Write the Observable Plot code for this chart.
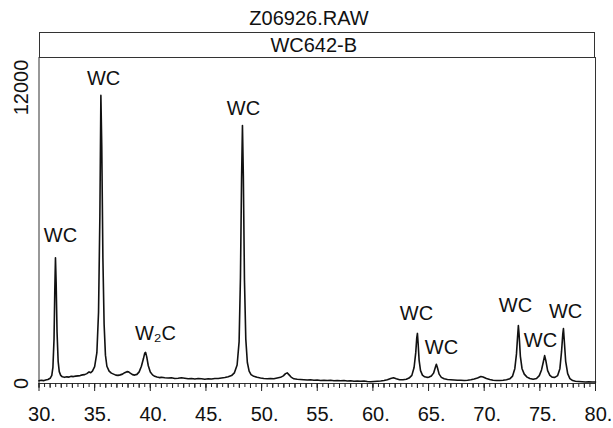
<!DOCTYPE html>
<html>
<head>
<meta charset="utf-8">
<script src="https://cdn.jsdelivr.net/npm/d3@7"></script>
<script src="https://cdn.jsdelivr.net/npm/@observablehq/plot@0.6"></script>
<style>
  html, body { margin: 0; padding: 0; background: #fff; }
  #wrap { position: relative; width: 613px; height: 428px; font-family: "Liberation Sans", Arial, Helvetica, sans-serif; color: #111; }
  #title { position: absolute; top: 7px; left: 209px; width: 200px; text-align: center; font-size: 20px; line-height: 22px; }
  #band { position: absolute; top: 32px; left: 38.5px; width: 556.5px; height: 26px; box-sizing: border-box;
          border: 1px solid #333; border-bottom: none; text-align: center; font-size: 20px; line-height: 25px; }
  #band span { position: relative; left: -3px; }
  svg { position: absolute; top: 0; left: 0; }
</style>
</head>
<body>
<div id="wrap">
  <div id="title">Z06926.RAW</div>
  <div id="band"><span>WC642-B</span></div>
</div>
<script>
// ---- data ----
const chartTitle = "Z06926.RAW";
const sampleName = "WC642-B";

const twoTheta = [
  30.0, 30.2, 30.4, 30.6, 30.8, 31.0, 31.15, 31.25, 31.35, 31.42, 31.48, 31.54, 31.62, 31.72, 31.82, 31.95,
  32.1, 32.3, 32.5, 32.7, 32.9, 33.1, 33.3, 33.5, 33.7, 33.9, 34.1, 34.3, 34.5, 34.65, 34.8,
  35.0, 35.2, 35.35, 35.47, 35.56, 35.64, 35.74, 35.85, 35.97, 36.1, 36.3, 36.5, 36.7, 36.9,
  37.1, 37.3, 37.5, 37.7, 37.9, 38.05, 38.2, 38.4, 38.6, 38.8, 39.0, 39.2, 39.38, 39.5, 39.58, 39.68, 39.82,
  40.0, 40.2, 40.4, 40.6, 40.8, 41.0, 41.3, 41.6, 41.9, 42.2, 42.5, 42.8, 43.1, 43.4, 43.7, 44.0, 44.3, 44.6, 44.9,
  45.2, 45.5, 45.8, 46.1, 46.4, 46.7, 47.0, 47.3, 47.55, 47.8, 47.98, 48.1, 48.2, 48.28, 48.36, 48.46, 48.58, 48.72, 48.88,
  49.05, 49.3, 49.6, 49.9, 50.2, 50.5, 50.8, 51.1, 51.4, 51.7, 51.95, 52.15, 52.3, 52.45, 52.65, 52.9,
  53.2, 53.5, 53.8, 54.1, 54.4, 54.7, 55.0, 55.3, 55.6, 55.9, 56.2, 56.5, 56.8, 57.1, 57.4, 57.7, 58.0, 58.3, 58.6, 58.9,
  59.2, 59.5, 59.8, 60.1, 60.4, 60.7, 61.0, 61.3, 61.6, 61.85, 62.1, 62.4, 62.7, 63.0, 63.25, 63.5, 63.7, 63.85, 63.94,
  64.0, 64.06, 64.15, 64.28, 64.45, 64.65, 64.85, 65.05, 65.25, 65.45, 65.6, 65.7, 65.8, 65.95, 66.15, 66.4, 66.7,
  67.0, 67.3, 67.6, 67.9, 68.2, 68.5, 68.8, 69.1, 69.4, 69.7, 69.9, 70.2, 70.5, 70.8, 71.1, 71.4, 71.7,
  72.0, 72.3, 72.55, 72.75, 72.9, 73.0, 73.07, 73.14, 73.25, 73.4, 73.6, 73.85, 74.1, 74.4, 74.7, 74.95,
  75.15, 75.3, 75.43, 75.55, 75.7, 75.9, 76.1, 76.35, 76.6, 76.8, 76.95, 77.06, 77.12, 77.2, 77.32, 77.5, 77.7, 77.95,
  78.2, 78.5, 78.8, 79.1, 79.4, 79.7, 80.0
];
const counts = [
  110, 130, 115, 140, 160, 210, 330, 650, 1800, 3800, 5100, 4100, 2100, 900, 480, 330,
  270, 250, 270, 260, 290, 280, 300, 310, 320, 350, 360, 400, 470, 440, 500,
  680, 1250, 2900, 6800, 11680, 9600, 5100, 2400, 1150, 700, 500, 420, 380, 340,
  330, 350, 380, 440, 480, 470, 420, 360, 340, 370, 470, 700, 1000, 1230, 1260, 1080, 720,
  470, 350, 290, 260, 240, 250, 230, 220, 230, 200, 210, 230, 210, 190, 200, 180, 200, 190, 170,
  190, 180, 200, 200, 220, 240, 270, 320, 430, 750, 1700, 4300, 8300, 10460, 8400, 4200, 1800, 850, 500,
  360, 290, 250, 220, 200, 190, 200, 190, 220, 250, 310, 400, 430, 360, 260, 190,
  170, 160, 150, 140, 150, 130, 140, 120, 130, 120, 130, 110, 120, 110, 120, 100, 110, 90, 100, 90,
  100, 80, 70, 80, 90, 100, 120, 150, 200, 230, 190, 150, 150, 170, 220, 330, 650, 1250, 1850,
  2030, 1650, 950, 520, 340, 270, 250, 260, 300, 420, 640, 780, 640, 380, 250, 190, 160,
  150, 140, 130, 130, 120, 130, 150, 180, 220, 280, 260, 200, 160, 130, 120, 120, 130,
  150, 190, 300, 600, 1200, 1900, 2350, 1950, 1100, 600, 380, 260, 200, 170, 200, 320,
  550, 850, 1130, 900, 520, 330, 260, 250, 320, 600, 1300, 2000, 2230, 1700, 900, 400, 200, 120,
  90, 80, 70, 60, 70, 60, 60
];

// peak annotations
const labelText = ["WC", "WC", "W\u2082C", "WC", "WC", "WC", "WC", "WC", "WC"];
const labelX    = [31.93, 35.80, 40.47, 48.37, 63.92, 66.16, 72.81, 75.06, 77.31];
const labelY    = [6000, 12365, 2027, 11150, 2838, 1460, 3162, 1743, 2919];

// axes
const xMajorTicks = [30, 35, 40, 45, 50, 55, 60, 65, 70, 75, 80];
const xMinorStep = 0.5;
const yTicks = [0, 12000];
const xDomain = [30, 80];
const yDomain = [0, 13216];

// ---- build ----
const spectrum = twoTheta.map((t, i) => ({t, c: counts[i]}));
const labels = labelText.map((s, i) => ({s, x: labelX[i], y: labelY[i]}));
const minorTicks = d3.range(xDomain[0], xDomain[1] + 1e-9, xMinorStep);
const unitTicks = d3.range(xDomain[0], xDomain[1] + 1e-9, 1);

const ink = "#111";
const font = "'Liberation Sans', Arial, Helvetica, sans-serif";

const chart = Plot.plot({
  width: 613,
  height: 428,
  marginTop: 57,
  marginBottom: 45,
  marginLeft: 38.5,
  marginRight: 18,
  style: {fontFamily: font, color: ink, background: "transparent"},
  x: {domain: xDomain},
  y: {domain: yDomain, axis: null},
  marks: [
    Plot.frame({stroke: "#333", strokeWidth: 1}),
    Plot.axisX(minorTicks, {tickSize: 4, tickFormat: () => "", label: null, stroke: "#222"}),
    Plot.axisX(unitTicks, {tickSize: 5, tickFormat: () => "", label: null, stroke: "#222"}),
    Plot.axisX(xMajorTicks, {tickSize: 8, tickFormat: () => "", label: null, stroke: "#222"}),
    Plot.text(xMajorTicks, {x: d => d, frameAnchor: "bottom", dy: 31, dx: 3, text: d => d + ".",
      fontSize: 20, lineAnchor: "middle", fill: ink}),
    Plot.text(yTicks, {y: d => d, frameAnchor: "left", dx: -17, rotate: -90, text: d => String(d),
      fontSize: 20, textAnchor: "middle", lineAnchor: "middle", fill: ink}),
    Plot.line(spectrum, {x: "t", y: "c", stroke: ink, strokeWidth: 1.6, strokeLinejoin: "round"}),
    Plot.text(labels, {x: "x", y: "y", text: "s", fontSize: 20, lineAnchor: "middle", fill: ink})
  ]
});
document.getElementById("wrap").prepend(chart);
document.getElementById("title").textContent = chartTitle;
document.querySelector("#band span").textContent = sampleName;
</script>
</body>
</html>
